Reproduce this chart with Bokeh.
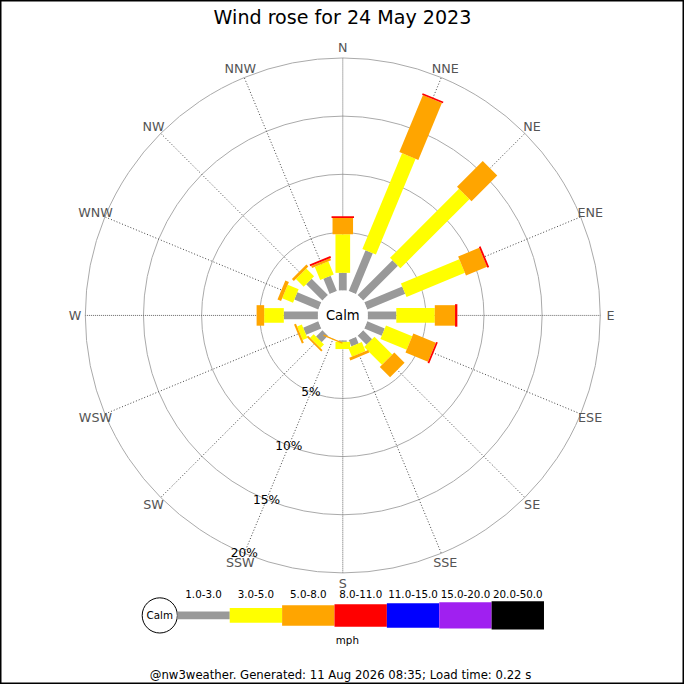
import numpy as np
from bokeh.plotting import figure
from bokeh.models import Range1d
from bokeh.embed import file_html
from bokeh.resources import INLINE
from bokeh.core.properties import value

# ---------------- data ----------------
title_text = "Wind rose for 24 May 2023"
footer_text = "@nw3weather. Generated: 11 Aug 2026 08:35; Load time: 0.22 s"
unit_text = "mph"
calm_text = "Calm"
directions = ["N", "NNE", "NE", "ENE", "E", "ESE", "SE", "SSE",
              "S", "SSW", "SW", "WSW", "W", "WNW", "NW", "NNW"]
speed_bins = ["1.0-3.0", "3.0-5.0", "5.0-8.0", "8.0-11.0",
              "11.0-15.0", "15.0-20.0", "20.0-50.0"]
bin_colors = ["#999999", "#ffff00", "#ffa500", "#ff0000",
              "#0000ff", "#a020f0", "#000000"]
# percentage of time per direction, per speed class
pct_1_3 = [1.52, 3.78, 4.23, 3.53, 2.46, 1.62, 1.08, 0.60,
           0.13, 0.00, 0.77, 1.41, 2.93, 2.23, 1.98, 1.41]
pct_3_5 = [3.32, 8.92, 8.40, 5.43, 3.31, 2.44, 2.16, 0.84,
           0.62, 0.00, 0.43, 0.44, 1.69, 1.01, 0.95, 1.22]
pct_5_8 = [1.40, 5.30, 3.13, 1.96, 1.74, 2.09, 1.25, 0.24,
           0.00, 0.12, 0.16, 0.18, 0.65, 0.33, 0.23, 0.20]
pct_8_11 = [0.15, 0.15, 0.00, 0.16, 0.20, 0.15, 0.00, 0.00,
            0.00, 0.00, 0.00, 0.00, 0.00, 0.00, 0.00, 0.16]
ring_pcts = [5, 10, 15, 20]
ring_labels = ["5%", "10%", "15%", "20%"]

# ---------------- geometry / style ----------------
FIG = 684
SC = FIG / 700.0
CX, CY = 350.3, 377.7        # rose centre (data units = reference px, y up)
R0 = 25.5                    # calm circle radius
K = 11.9                     # units per percent
BAR_W = [8, 15, 21, 23, 25, 27, 29]
FONT = value("DejaVu Sans")

def px(v):
    return "%.1fpx" % (v * SC)

p = figure(width=FIG, height=FIG, output_backend="svg", toolbar_location=None,
           x_range=Range1d(0, 700), y_range=Range1d(0, 700),
           x_axis_type=None, y_axis_type=None, min_border=0)
p.grid.visible = False
p.background_fill_color = "white"
p.border_fill_color = "white"
p.outline_line_color = "black"
p.outline_line_width = 2

th = np.radians(np.arange(len(directions)) * 22.5)
R_OUT = R0 + K * ring_pcts[-1]

# rings
rr = [R0 + K * v for v in ring_pcts]
p.circle(x=[CX] * len(rr), y=[CY] * len(rr), radius=rr,
         fill_color=None, line_color="#aaaaaa", line_width=1)

# spokes
main = np.arange(len(directions)) % 4 == 0
p.segment(x0=(CX + R0 * np.sin(th))[main], y0=(CY + R0 * np.cos(th))[main],
          x1=(CX + R_OUT * np.sin(th))[main], y1=(CY + R_OUT * np.cos(th))[main],
          line_color="#666666", line_width=1, line_dash="1 1")
p.segment(x0=(CX + R0 * np.sin(th))[~main], y0=(CY + R0 * np.cos(th))[~main],
          x1=(CX + R_OUT * np.sin(th))[~main], y1=(CY + R_OUT * np.cos(th))[~main],
          line_color="#444444", line_width=1, line_dash="1 2")

# bars
series = [pct_1_3, pct_3_5, pct_5_8, pct_8_11]
cum = np.zeros(len(directions))
for k, vals in enumerate(series):
    vals = np.array(vals, dtype=float)
    inner = R0 + K * cum
    outer = R0 + K * (cum + vals)
    mid = (inner + outer) / 2
    m = vals > 0
    p.rect(x=(CX + mid * np.sin(th))[m], y=(CY + mid * np.cos(th))[m],
           width=(outer - inner)[m], height=BAR_W[k], angle=(np.pi / 2 - th)[m],
           fill_color=bin_colors[k], line_color=None)
    cum += vals

# calm circle
p.circle(x=[CX], y=[CY], radius=R0, fill_color="white", line_color=None)
p.text(x=[CX], y=[CY], text=[calm_text], text_align="center", text_baseline="middle",
       text_font=FONT, text_font_size=px(13.5), text_color="black")

# direction labels
RL = 274
p.text(x=CX + RL * np.sin(th), y=CY + RL * np.cos(th), text=directions,
       text_align="center", text_baseline="middle", text_font=FONT,
       text_font_size=px(13), text_color="#555555")

# ring labels along SSW
a = np.radians(202.5)
p.text(x=[CX + r * np.sin(a) for r in rr], y=[CY + r * np.cos(a) for r in rr],
       text=ring_labels, text_align="center", text_baseline="middle",
       text_font=FONT, text_font_size=px(12.5), text_color="black")

# title
p.text(x=[350], y=[700 - 17], text=[title_text], text_align="center",
       text_baseline="middle", text_font=FONT, text_font_size=px(19.5),
       text_color="black")

# legend
LY = 700 - 629.3
LX0 = 181.0
LSEG = 53.6
p.circle(x=[163], y=[LY], radius=18, fill_color="white", line_color="black",
         line_width=1)
p.text(x=[163], y=[LY], text=[calm_text], text_align="center", text_baseline="middle",
       text_font=FONT, text_font_size=px(10.5), text_color="black")
lx = [LX0 + LSEG * (i + 0.5) for i in range(len(speed_bins))]
p.rect(x=lx, y=[LY] * len(lx), width=LSEG, height=BAR_W[:len(speed_bins)],
       fill_color=bin_colors, line_color=None)
p.text(x=lx, y=[700 - 607] * len(lx), text=speed_bins, text_align="center",
       text_baseline="middle", text_font=FONT, text_font_size=px(10.5),
       text_color="black")
p.text(x=[355], y=[700 - 654], text=[unit_text], text_align="center",
       text_baseline="middle", text_font=FONT, text_font_size=px(10.5),
       text_color="black")

# footer
p.text(x=[348], y=[700 - 690], text=[footer_text], text_align="center",
       text_baseline="middle", text_font=FONT, text_font_size=px(12),
       text_color="black")

open("out.html", "w").write(file_html(p, INLINE))
